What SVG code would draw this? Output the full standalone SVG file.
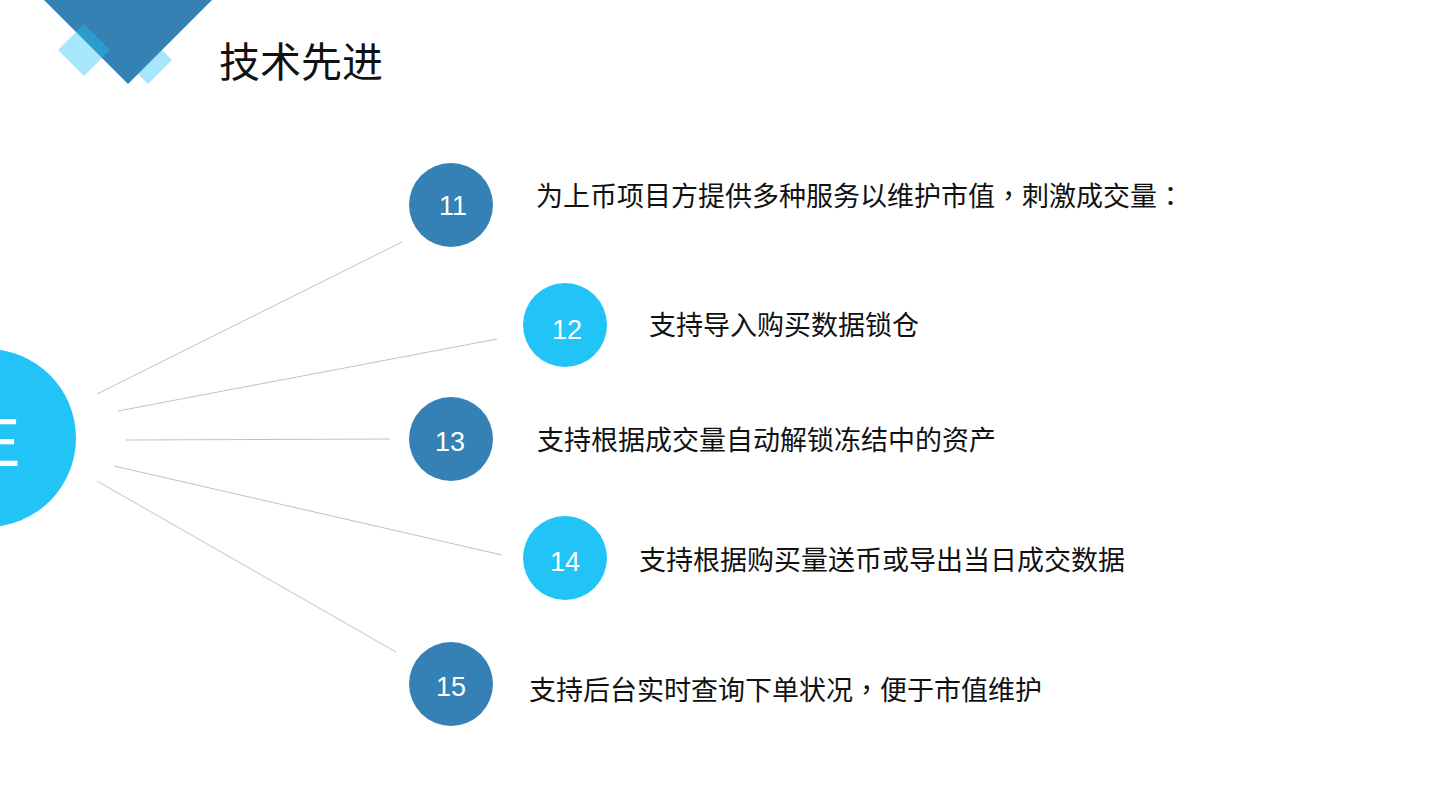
<svg xmlns="http://www.w3.org/2000/svg" width="1440" height="810" viewBox="0 0 1440 810">
<style>
.dark{fill:#3581b5}
.light{fill:#22c4f8}
.num{font-family:"Liberation Sans",Arial,sans-serif;font-size:27px;fill:#ffffff;text-anchor:middle}
.lbl{font-family:"Noto Sans CJK SC","Noto Sans",sans-serif;font-size:27px;fill:#111111}
.p{font-family:"Noto Sans CJK TC","Noto Sans CJK SC",sans-serif}
.title{font-family:"Noto Sans CJK SC","Noto Sans",sans-serif;font-size:41px;fill:#111111}
.conn line{stroke:#c2c2c2;stroke-width:1;fill:none}
</style>
<rect width="1440" height="810" fill="#ffffff"/>
<g id="decoration">
  <polygon points="148,36 172,60 148,84 124,60" fill="#a6e5fb"/>
  <polygon points="43,-1 128,-86 213,-1 128,84" class="dark"/>
  <polygon points="84,24 110,50 84,76 58,50" fill="#22c4f8" fill-opacity="0.4"/>
</g>
<g id="title"><text class="title" x="219" y="77">技术先进</text></g>
<g id="connectors" class="conn">
  <line x1="97" y1="394" x2="402" y2="242"/>
  <line x1="118" y1="411" x2="497" y2="339"/>
  <line x1="126" y1="440" x2="390" y2="439"/>
  <line x1="114" y1="466" x2="502" y2="555"/>
  <line x1="97" y1="481" x2="396" y2="652"/>
</g>
<g id="hub">
  <circle cx="-13" cy="438" r="89" class="light"/>
  <text x="-25" y="466" font-family="Liberation Sans,Arial,sans-serif" font-size="68" fill="#ffffff">E</text>
</g>
<g id="node11">
  <circle cx="451" cy="205" r="42" class="dark"/>
  <text class="num" x="453" y="215">11</text>
  <text class="lbl" x="536" y="206">为上币项目方提供多种服务以维护市值<tspan class="p" xml:lang="zh-TW" lang="zh-TW">，</tspan>刺激成交量<tspan class="p" xml:lang="zh-TW" lang="zh-TW">：</tspan></text>
</g>
<g id="node12">
  <circle cx="565" cy="325" r="42" class="light"/>
  <text class="num" x="567" y="339">12</text>
  <text class="lbl" x="649" y="335">支持导入购买数据锁仓</text>
</g>
<g id="node13">
  <circle cx="451" cy="439" r="42" class="dark"/>
  <text class="num" x="450" y="451">13</text>
  <text class="lbl" x="537" y="450">支持根据成交量自动解锁冻结中的资产</text>
</g>
<g id="node14">
  <circle cx="565" cy="558" r="42" class="light"/>
  <text class="num" x="565" y="571">14</text>
  <text class="lbl" x="639" y="570">支持根据购买量送币或导出当日成交数据</text>
</g>
<g id="node15">
  <circle cx="451" cy="684" r="42" class="dark"/>
  <text class="num" x="451" y="696">15</text>
  <text class="lbl" x="529" y="700">支持后台实时查询下单状况<tspan class="p" xml:lang="zh-TW" lang="zh-TW">，</tspan>便于市值维护</text>
</g>
</svg>
